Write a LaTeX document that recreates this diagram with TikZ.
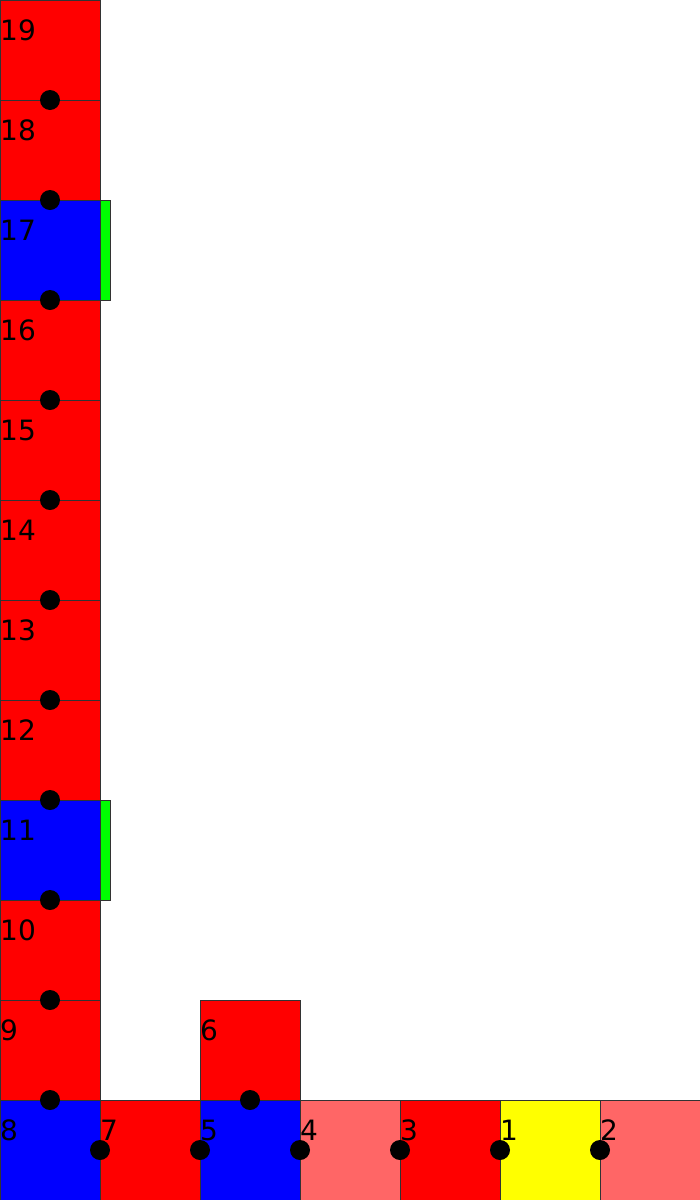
\documentclass[tikz,border=0pt]{standalone}
\usepackage{fontspec}
\setmainfont{DejaVu Sans}
\definecolor{cred}{HTML}{FF0000}
\definecolor{cblue}{HTML}{0000FF}
\definecolor{clight}{HTML}{FF6666}
\definecolor{cyel}{HTML}{FFFF00}
\definecolor{cgreen}{HTML}{00FF00}
\definecolor{cedge}{HTML}{333333}
\begin{document}
\begin{tikzpicture}[x=1pt,y=-1pt,
  cell/.style={draw=cedge,line width=0.8pt,minimum width=100pt,minimum height=100pt,inner sep=0pt,outer sep=0pt,anchor=north west},
  strip/.style={draw=cedge,fill=cgreen,line width=0.8pt,minimum width=10pt,minimum height=100pt,inner sep=0pt,outer sep=0pt,anchor=north west},
  joint/.style={circle,fill=black,minimum size=20pt,inner sep=0pt},
  lbl/.style={anchor=base west,inner sep=0pt,font=\fontsize{28}{28}\selectfont}]
\useasboundingbox (0,0) rectangle (700,1200);
% column cells
\foreach \n/\c in {19/cred,18/cred,17/cblue,16/cred,15/cred,14/cred,13/cred,12/cred,11/cblue,10/cred,9/cred}{
  \pgfmathtruncatemacro{\yy}{(19-\n)*100}
  \node[cell,fill=\c] (c\n) at (0,\yy) {};
}
\node[strip] (g17) at (100,200) {};
\node[strip] (g11) at (100,800) {};
% bottom row
\node[cell,fill=cblue] (c8) at (0,1100) {};
\node[cell,fill=cred] (c7) at (100,1100) {};
\node[cell,fill=cblue] (c5) at (200,1100) {};
\node[cell,fill=clight] (c4) at (300,1100) {};
\node[cell,fill=cred] (c3) at (400,1100) {};
\node[cell,fill=cyel] (c1) at (500,1100) {};
\node[cell,fill=clight] (c2) at (600,1100) {};
\node[cell,fill=cred] (c6) at (200,1000) {};
% joints
\foreach \a/\b in {19/18,18/17,17/16,16/15,15/14,14/13,13/12,12/11,11/10,10/9,9/8}{
  \node[joint] (j\a-\b) at (c\a.south) {};
}
\node[joint] (j8-7) at (c8.east) {};
\node[joint] (j7-5) at (c7.east) {};
\node[joint] (j5-4) at (c5.east) {};
\node[joint] (j4-3) at (c4.east) {};
\node[joint] (j3-1) at (c3.east) {};
\node[joint] (j1-2) at (c1.east) {};
\node[joint] (j6-5) at (c6.south) {};
% labels
\foreach \n in {19,18,17,16,15,14,13,12,11,10,9,8,7,6,5,4,3,2,1}{
  \node[lbl] (l\n) at ([yshift=-40pt]c\n.north west) {\n};
}
\end{tikzpicture}
\end{document}
